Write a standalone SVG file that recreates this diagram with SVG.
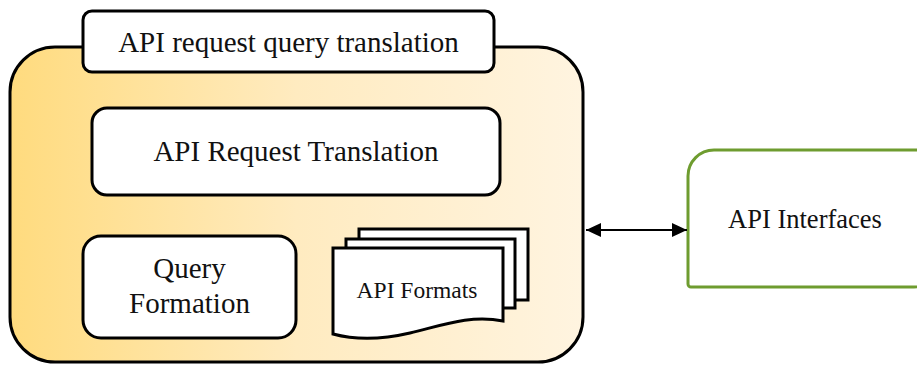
<svg xmlns="http://www.w3.org/2000/svg" width="917" height="365" viewBox="0 0 917 365">
  <defs>
    <linearGradient id="panelFill" x1="0" y1="0" x2="1" y2="0">
      <stop offset="0" stop-color="#FFDB7E"/>
      <stop offset="0.5" stop-color="#FFEBC0"/>
      <stop offset="1" stop-color="#FFF4E0"/>
    </linearGradient>
    <marker id="arrowHead" viewBox="0 0 15 14" refX="15" refY="7" markerWidth="15" markerHeight="14" markerUnits="userSpaceOnUse" orient="auto-start-reverse">
      <path d="M0,0 L15,7 L0,14 Z" fill="#000"/>
    </marker>
    <style>
      .box { fill: #fff; stroke: #000; stroke-width: 3; }
      .label { font-family: "Liberation Serif", "Times New Roman", serif; fill: #111; text-anchor: middle; }
      .conn { stroke: #000; stroke-width: 2; fill: none; }
    </style>
  </defs>

  <!-- outer translation panel -->
  <g id="panel">
    <rect x="10" y="47" width="573" height="315" rx="45" ry="45" fill="url(#panelFill)" stroke="#000" stroke-width="3"/>
  </g>

  <!-- panel title tab -->
  <g id="title">
    <rect class="box" x="83" y="11" width="411" height="61" rx="9" ry="9"/>
    <text class="label" x="288.5" y="52" font-size="29">API request query translation</text>
  </g>

  <g id="request-translation">
    <rect class="box" x="92" y="108" width="408" height="87" rx="15" ry="15"/>
    <text class="label" x="296" y="161" font-size="29">API Request Translation</text>
  </g>

  <g id="query-formation">
    <rect class="box" x="83" y="236" width="213" height="102" rx="18" ry="18"/>
    <text class="label" x="189.5" y="278" font-size="29">Query</text>
    <text class="label" x="189.5" y="313" font-size="29">Formation</text>
  </g>

  <!-- stacked document pages -->
  <g id="api-formats">
    <rect class="box" x="359" y="229" width="169" height="71"/>
    <rect class="box" x="346" y="239" width="169" height="69"/>
    <path class="box" d="M333,248 H503 V321 C470,314 440,326 410,333 C380,340 355,340 333,334 Z"/>
    <text class="label" x="417" y="298" font-size="23.5">API Formats</text>
  </g>

  <g id="api-interfaces">
    <path d="M688,176 A26,26 0 0 1 714,150 H940 V261 A26,26 0 0 1 914,287 H691 A3,3 0 0 1 688,284 Z" fill="#fff" stroke="#6E9C2F" stroke-width="3"/>
    <text class="label" x="805" y="228" font-size="26.5">API Interfaces</text>
  </g>

  <g id="connectors">
    <line class="conn" x1="586" y1="230" x2="687" y2="230" marker-start="url(#arrowHead)" marker-end="url(#arrowHead)"/>
  </g>
</svg>
